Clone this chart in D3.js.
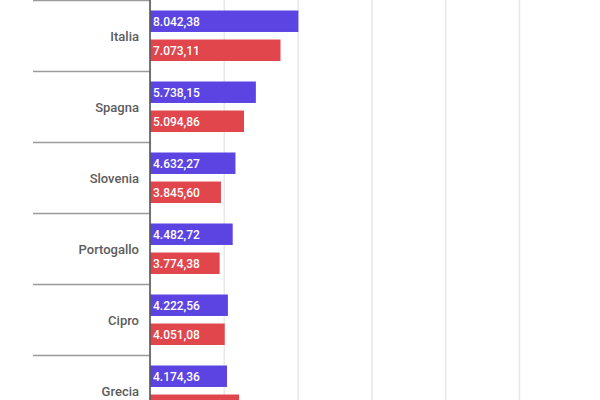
<!DOCTYPE html>
<html lang="it">

<head>
  <title>Bar chart</title>
  <script src="https://d3js.org/d3.v7.min.js"></script>
  <style>
    body {
      margin: 0;
      background: #fff;
    }
    svg {
      display: block;
      font-family: Roboto, "Noto Sans", sans-serif;
    }
  </style>
</head>

<body>
  <script>
    // Data
    const categories = ["Italia", "Spagna", "Slovenia", "Portogallo", "Cipro", "Grecia"];
    const seriesA = [8042.38, 5738.15, 4632.27, 4482.72, 4222.56, 4174.36];
    const seriesB = [7073.11, 5094.86, 3845.60, 3774.38, 4051.08, 4828.93];
    const xTicks = [0, 4000, 8000, 12000, 16000, 20000];
    const seriesNames = ["a", "b"];
    const colors = ["#5b44e2", "#e0464c"];

    const width = 600;
    const height = 400;

    var svg = d3.select("body")
      .append("svg")
      .attr("width", width)
      .attr("height", height);

    // Scales
    var x = d3.scaleLinear()
      .domain([0, 20000])
      .range([150, 519]);

    var y = d3.scaleBand()
      .domain(categories)
      .range([0.5, 0.5 + categories.length * 71]);

    var ySub = d3.scaleBand()
      .domain(seriesNames)
      .range([10, 60.5])
      .paddingInner(0.26);

    // Italian number format
    var it = d3.formatLocale({ decimal: ",", thousands: ".", grouping: [3], currency: ["", "€"] });
    var fmt = it.format(",.2f");

    // Gridlines
    svg.append("g")
      .attr("transform", "translate(0," + height + ")")
      .call(d3.axisBottom(x).tickValues(xTicks).tickSize(height).tickFormat(""))
      .call(g => g.select(".domain").remove())
      .call(g => g.selectAll(".tick line")
        .attr("stroke", "#e9e9e9")
        .attr("stroke-width", 1.6)
        .attr("transform", "translate(0," + (-height) + ")")
        .attr("y1", 0).attr("y2", height));

    // Category separators
    svg.selectAll(".sep")
      .data(categories)
      .enter()
      .append("line")
      .attr("x1", 33)
      .attr("x2", x(0))
      .attr("y1", d => y(d))
      .attr("y2", d => y(d))
      .attr("stroke", "#9a9a9a")
      .attr("stroke-width", 1.6);

    // Bars
    const rows = categories.map((c, i) => ({ cat: c, vals: [seriesA[i], seriesB[i]] }));

    var groups = svg.selectAll(".grp")
      .data(rows)
      .enter()
      .append("g")
      .attr("transform", d => "translate(0," + y(d.cat) + ")");

    var cells = groups.selectAll(".bar")
      .data(d => d.vals.map((v, j) => ({ s: seriesNames[j], v: v, j: j })))
      .enter();

    cells.append("rect")
      .attr("x", x(0))
      .attr("y", d => ySub(d.s))
      .attr("width", d => x(d.v) - x(0))
      .attr("height", ySub.bandwidth())
      .attr("fill", d => colors[d.j]);

    cells.append("text")
      .attr("x", x(0) + 3)
      .attr("y", d => ySub(d.s) + ySub.bandwidth() / 2)
      .attr("dy", "0.36em")
      .attr("fill", "#fff")
      .attr("font-size", 12)
      .attr("font-weight", 500)
      .text(d => fmt(d.v));

    // Category labels
    svg.selectAll(".lbl")
      .data(categories)
      .enter()
      .append("text")
      .attr("x", 139)
      .attr("y", d => y(d) + y.bandwidth() / 2)
      .attr("dy", "0.36em")
      .attr("text-anchor", "end")
      .attr("fill", "#5c5c5c")
      .attr("font-size", 13)
      .attr("font-weight", 500)
      .text(d => d);

    // Vertical axis line
    svg.append("line")
      .attr("x1", x(0))
      .attr("x2", x(0))
      .attr("y1", 0)
      .attr("y2", height)
      .attr("stroke", "#555")
      .attr("stroke-width", 1.6);
  </script>
</body>

</html>
